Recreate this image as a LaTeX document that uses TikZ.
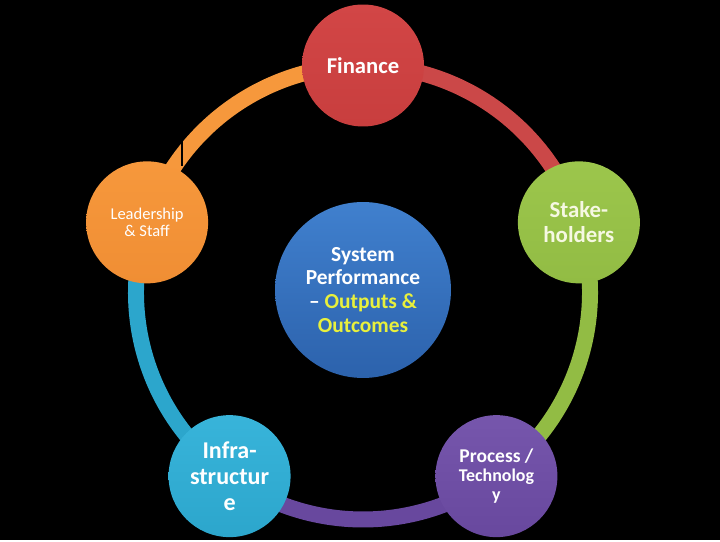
\documentclass[tikz,border=0pt]{standalone}
\usepackage{fontspec}
\setmainfont{Carlito}
\usetikzlibrary{calc,backgrounds}
\definecolor{finred}{RGB}{200,62,62}
\definecolor{finredtop}{RGB}{210,70,70}
\definecolor{leadorange}{RGB}{240,142,52}
\definecolor{leadorangetop}{RGB}{246,152,60}
\definecolor{stakegreen}{RGB}{146,188,68}
\definecolor{stakegreentop}{RGB}{156,198,76}
\definecolor{procpurple}{RGB}{104,72,158}
\definecolor{procpurpletop}{RGB}{118,86,172}
\definecolor{infrateal}{RGB}{44,166,204}
\definecolor{infratealtop}{RGB}{56,180,218}
\definecolor{sysblue}{RGB}{44,98,172}
\definecolor{sysbluetop}{RGB}{64,128,206}
\definecolor{outyellow}{RGB}{232,240,60}
\definecolor{staketext}{RGB}{246,248,226}
\tikzset{
  bubble/.style={circle, minimum size=2.44cm, inner sep=0pt, align=center, text=white},
  ringarc/.style={line width=9.1pt}
}

\begin{document}
\begin{tikzpicture}[x=0.02cm, y=0.02cm]
			%%%%% START %%%%%
			
			\coordinate (ring) at (363, 247.5);
			
			\node[bubble, top color=finredtop, bottom color=finred, font=\fontsize{12.9}{14}\selectfont\bfseries] (fin) at ($(ring)+(90:227)$) {Finance};
			\node[bubble, top color=stakegreentop, bottom color=stakegreen, text=staketext, font=\fontsize{13}{14.2}\selectfont\bfseries] (stake) at ($(ring)+(18:227)$) {Stake-\\holders};
			\node[bubble, top color=procpurpletop, bottom color=procpurple, font=\fontsize{10.2}{11}\selectfont\bfseries] (proc) at ($(ring)+(-54:227)$) {\fontsize{11.1}{11}\selectfont Process /\\Technolog\\y};
			\node[bubble, top color=infratealtop, bottom color=infrateal, font=\fontsize{13.7}{14.7}\selectfont\bfseries] (infra) at ($(ring)+(-126:227)$) {Infra-\\structur\\e};
			\node[bubble, top color=leadorangetop, bottom color=leadorange, font=\fontsize{9.4}{10.2}\selectfont] (lead) at ($(ring)+(162:227)$) {Leadership\\\& Staff};
			
			\node[bubble, minimum size=3.52cm, top color=sysbluetop, bottom color=sysblue, font=\fontsize{12.2}{13.6}\selectfont\bfseries] (sys) at (363, 250) {System\\Performance\\– \textcolor{outyellow}{Outputs \&}\\\textcolor{outyellow}{Outcomes}};
			
			\begin{pgfonlayer}{background}
			\fill[black] (0, 0) rectangle (720, 540);
			
			\draw[ringarc, color=finred!95!white] (fin.center) arc (90:18:227);
			\draw[ringarc, color=stakegreen] (stake.center) arc (18:-54:227);
			\draw[ringarc, color=procpurple] (proc.center) arc (-54:-126:227);
			\draw[ringarc, color=infrateal] (infra.center) arc (-126:-198:227);
			\draw[ringarc, color=leadorangetop] (lead.center) arc (162:90:227);
			
			\draw[line width=0.6pt, color=black] (182, 400) -- (182, 374);
			\end{pgfonlayer}
			
			%%%%% END %%%%%
\end{tikzpicture}
\end{document}
